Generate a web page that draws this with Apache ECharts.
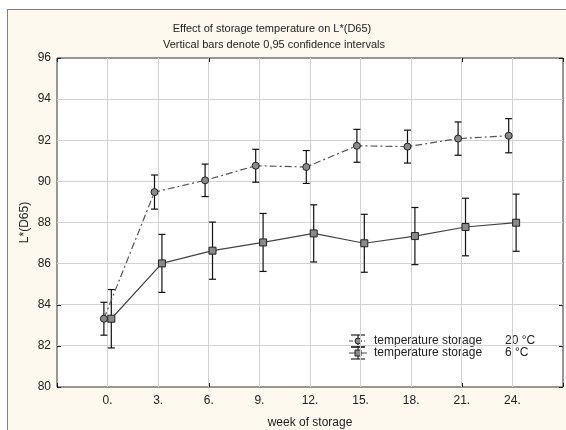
<!DOCTYPE html>
<html>
<head>
<meta charset="utf-8">
<script src="https://cdn.jsdelivr.net/npm/echarts@6/dist/echarts.min.js"></script>
<style>
  html, body { margin: 0; padding: 0; background: #ffffff; }
  #wrap { position: relative; width: 566px; height: 430px; overflow: hidden; }
  #frame {
    position: absolute; left: 7px; top: 9px; width: 620px; height: 480px;
    background: #fdf9ee; border: 1.5px solid #808080; box-sizing: border-box;
  }
  #chart { position: absolute; left: 0; top: 0; width: 566px; height: 430px; }
</style>
</head>
<body>
<div id="wrap">
  <div id="frame"></div>
  <div id="chart"></div>
</div>
<script>
// Weeks of storage and L*(D65) means with 0.95 confidence half-widths
const weeks = [0, 3, 6, 9, 12, 15, 18, 21, 24];
const mean20 = [83.32, 89.48, 90.05, 90.76, 90.70, 91.73, 91.69, 92.08, 92.22];
const ci20   = [0.80, 0.83, 0.79, 0.80, 0.80, 0.80, 0.80, 0.81, 0.83];
const mean6  = [83.32, 86.01, 86.63, 87.03, 87.47, 86.99, 87.34, 87.78, 87.99];
const ci6    = [1.42, 1.41, 1.39, 1.41, 1.39, 1.41, 1.39, 1.40, 1.39];
const seriesNames = ['temperature storage', 'temperature storage'];
const seriesTemps = ['20 °C', '6 °C'];
const yTicks = [80, 82, 84, 86, 88, 90, 92, 94, 96];

// small horizontal shift so the two groups do not overlap (in weeks)
const SHIFT = 0.22;
const FONT = 'Liberation Sans, Arial, sans-serif';
const TXT = '#222';
const GRID_COLOR = '#d2d2d2';

function pairs(means, dx) {
  return weeks.map((w, i) => [w + dx, means[i]]);
}
function barData(means, cis, dx) {
  return weeks.map((w, i) => [w + dx, means[i] - cis[i], means[i] + cis[i]]);
}

function errorBars(api) {
  const x = api.value(0);
  const lo = api.coord([x, api.value(1)]);
  const hi = api.coord([x, api.value(2)]);
  const cap = 3.5;
  const style = { stroke: '#111', lineWidth: 1.2 };
  return {
    type: 'group',
    children: [
      { type: 'line', shape: { x1: lo[0], y1: lo[1], x2: hi[0], y2: hi[1] }, style },
      { type: 'line', shape: { x1: lo[0] - cap, y1: lo[1], x2: lo[0] + cap, y2: lo[1] }, style },
      { type: 'line', shape: { x1: hi[0] - cap, y1: hi[1], x2: hi[0] + cap, y2: hi[1] }, style }
    ]
  };
}

// crisp 1px grid line across the plotting rectangle
function crisp(v) { return Math.round(v - 0.5) + 0.5; }
function vGrid(params, api) {
  const r = params.coordSys;
  const x = crisp(api.coord([api.value(0), yTicks[0]])[0]);
  return { type: 'line', silent: true, shape: { x1: x, y1: r.y, x2: x, y2: r.y + r.height },
           style: { stroke: GRID_COLOR, lineWidth: 1 } };
}
function hGrid(params, api) {
  const r = params.coordSys;
  const y = crisp(api.coord([weeks[0], api.value(0)])[1]);
  return { type: 'line', silent: true, shape: { x1: r.x, y1: y, x2: r.x + r.width, y2: y },
           style: { stroke: GRID_COLOR, lineWidth: 1 } };
}

const chart = echarts.init(document.getElementById('chart'), null, { renderer: 'canvas' });

const axisLine = { show: false, onZero: false };
const tickInside = { show: true, inside: true, length: 4, lineStyle: { color: '#222', width: 1 } };

// legend glyph: small error bar with a marker and a line through it
function legendGlyph(cx, cy, symbol, dashed) {
  const s = { stroke: '#111', lineWidth: 1.1 };
  const items = [
    { type: 'line', shape: { x1: cx - 7, y1: cy - 6, x2: cx + 7, y2: cy - 6 }, style: s },
    { type: 'line', shape: { x1: cx - 7, y1: cy + 6, x2: cx + 7, y2: cy + 6 }, style: s },
    { type: 'line', shape: { x1: cx, y1: cy - 6, x2: cx, y2: cy + 6 }, style: s },
    { type: 'line', shape: { x1: cx - 9, y1: cy, x2: cx + 9, y2: cy },
      style: { stroke: '#444', lineWidth: 1, lineDash: dashed ? [4, 2, 1, 2] : null } }
  ];
  if (symbol === 'circle') {
    items.push({ type: 'circle', shape: { cx, cy, r: 3 }, style: { fill: '#8a8a8a', stroke: '#222', lineWidth: 1 } });
  } else {
    items.push({ type: 'rect', shape: { x: cx - 3, y: cy - 3, width: 6, height: 6 }, style: { fill: '#8a8a8a', stroke: '#222', lineWidth: 1 } });
  }
  return { type: 'group', children: items };
}

chart.setOption({
  backgroundColor: 'transparent',
  animation: false,
  title: [
    { text: 'Effect of storage temperature on L*(D65)', left: 267, top: 18, textAlign: 'center',
      textStyle: { fontFamily: FONT, fontSize: 11, fontWeight: 'normal', color: TXT } },
    { text: 'Vertical bars denote 0,95 confidence intervals', left: 269, top: 34, textAlign: 'center',
      textStyle: { fontFamily: FONT, fontSize: 11, fontWeight: 'normal', color: TXT } }
  ],
  grid: {
    left: 57, top: 58, right: 3, bottom: 43,
    outerBoundsMode: 'none', containLabel: false,
    show: true, backgroundColor: '#ffffff', borderColor: '#333', borderWidth: 1
  },
  xAxis: [
    {
      type: 'value', min: -3, max: 27, interval: 3,
      name: 'week of storage', nameLocation: 'middle', nameGap: 30,
      nameTextStyle: { fontFamily: FONT, fontSize: 12, color: TXT },
      axisLine, axisTick: tickInside,
      axisLabel: {
        fontFamily: FONT, fontSize: 12, color: TXT, margin: 8,
        formatter: v => (v >= 0 && v <= 24 ? v + '.' : '')
      },
      splitLine: { show: false }
    },
    {
      type: 'value', position: 'top', min: -3, max: 27, interval: 3,
      axisLine, axisTick: tickInside, axisLabel: { show: false }, splitLine: { show: false }
    }
  ],
  yAxis: [
    {
      type: 'value', min: yTicks[0], max: yTicks[yTicks.length - 1], interval: 2,
      name: 'L*(D65)', nameLocation: 'middle', nameGap: 26, nameRotate: 90, nameMoveOverlap: false,
      nameTextStyle: { fontFamily: FONT, fontSize: 12, color: TXT },
      axisLine, axisTick: tickInside,
      axisLabel: { fontFamily: FONT, fontSize: 12, color: TXT, margin: 6 },
      splitLine: { show: false }
    },
    {
      type: 'value', position: 'right', min: yTicks[0], max: yTicks[yTicks.length - 1], interval: 2,
      axisLine, axisTick: tickInside, axisLabel: { show: false }, splitLine: { show: false }
    }
  ],
  series: [
    {
      type: 'custom', silent: true, z: 1, data: weeks.map(w => [w]),
      renderItem: vGrid, encode: { x: 0 }
    },
    {
      type: 'custom', silent: true, z: 1, data: yTicks.slice(1, -1).map(v => [v]),
      renderItem: hGrid, encode: { y: 0 }
    },
    {
      name: seriesNames[0] + ' ' + seriesTemps[0], type: 'line',
      data: pairs(mean20, -SHIFT), z: 3,
      lineStyle: { color: '#555', width: 1.2, type: [7, 3, 2, 3] },
      symbol: 'circle', symbolSize: 7,
      itemStyle: { color: '#8a8a8a', borderColor: '#222', borderWidth: 1 }
    },
    {
      name: seriesNames[1] + ' ' + seriesTemps[1], type: 'line',
      data: pairs(mean6, SHIFT), z: 3,
      lineStyle: { color: '#444', width: 1.2, type: 'solid' },
      symbol: 'rect', symbolSize: 7,
      itemStyle: { color: '#8a8a8a', borderColor: '#222', borderWidth: 1 }
    },
    {
      type: 'custom', data: barData(mean20, ci20, -SHIFT), z: 2,
      renderItem: (params, api) => errorBars(api), encode: { x: 0, y: [1, 2] }
    },
    {
      type: 'custom', data: barData(mean6, ci6, SHIFT), z: 2,
      renderItem: (params, api) => errorBars(api), encode: { x: 0, y: [1, 2] }
    }
  ],
  graphic: [
    legendGlyph(358, 341, 'circle', true),
    legendGlyph(358, 353, 'rect', false),
    { type: 'text', left: 374, top: 335, style: { text: seriesNames[0], font: '12px ' + FONT, fill: TXT } },
    { type: 'text', left: 374, top: 347, style: { text: seriesNames[1], font: '12px ' + FONT, fill: TXT } },
    { type: 'text', left: 505, top: 335, style: { text: seriesTemps[0], font: '12px ' + FONT, fill: TXT } },
    { type: 'text', left: 505, top: 347, style: { text: seriesTemps[1], font: '12px ' + FONT, fill: TXT } }
  ]
});
</script>
</body>
</html>
